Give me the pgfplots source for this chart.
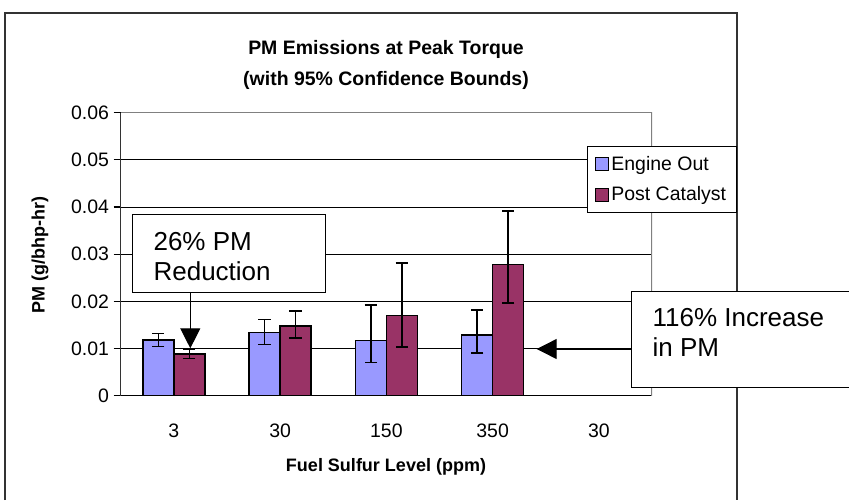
\documentclass[border=0pt]{standalone}
\usepackage{pgfplots}
\pgfplotsset{compat=1.18}
\usepackage{pgfplotstable}
\usepackage{fontspec}
\setmainfont{Liberation Sans}
\usetikzlibrary{arrows.meta}
\definecolor{eo}{HTML}{9999FF}
\definecolor{pc}{HTML}{993366}

\pgfplotsset{sqlegend/.style={legend image code/.code={\draw[##1,line width=0.9pt] (0pt,-4.9pt) rectangle (9.75pt,4.9pt);}}}

\pgfplotstableread{
x y ep em
0 0.0118 0.0014 0.0014
1 0.0134 0.0028 0.0025
2 0.0117 0.0075 0.0047
3 0.0129 0.0053 0.0038
}\engineout
\pgfplotstableread{
x y ep em
0 0.0088 0.0010 0.0009
1 0.0148 0.0032 0.0026
2 0.0170 0.0111 0.0067
3 0.0278 0.0114 0.0081
}\postcat

\begin{document}
\begin{tikzpicture}
\begin{scope}[x=0.75pt,y=-0.75pt]
\fill[white] (0,0) rectangle (849,500);
\draw[line width=1.1pt, black!80] (5,500) -- (5,13) -- (737,13) -- (737,500);
\node[font=\bfseries\fontsize{14.6}{18}\selectfont] at (386,49) {PM Emissions at Peak Torque};
\node[font=\bfseries\fontsize{14.6}{18}\selectfont] at (386,80) {(with 95\% Confidence Bounds)};
\node[font=\bfseries\fontsize{13.5}{16}\selectfont, rotate=90] at (40,255) {PM (g/bhp-hr)};
\node[font=\bfseries\fontsize{13.5}{16}\selectfont] at (386,467) {Fuel Sulfur Level (ppm)};
\end{scope}

\begin{axis}[
  at={(90.525pt,-296.775pt)}, anchor=south west,
  scale only axis, width=398.5pt, height=212.25pt,
  xmin=-0.5, xmax=4.5, ymin=0, ymax=0.06,
  scaled y ticks=false,
  axis x line*=bottom, axis y line*=left,
  x axis line style={-, black, line width=1.1pt},
  y axis line style={-, black!80, line width=1.1pt},
  ybar,
  xtick={0,1,2,3,4},
  xticklabels={3,30,150,350,30},
  xtick style={draw=none},
  minor xtick={-0.5,0.5,1.5,2.5,3.5,4.5},
  minor tick length=5.25pt,
  major tick length=5.25pt,
  tick align=outside,
  minor x tick style={black, line width=0.9pt},
  ytick={0,0.01,0.02,0.03,0.04,0.05,0.06},
  yticklabels={0,0.01,0.02,0.03,0.04,0.05,0.06},
  y tick style={black, line width=0.9pt},
  /pgf/number format/assume math mode=true,
  ticklabel style={font=\fontsize{14.6}{17}\selectfont},
  xticklabel style={yshift=-12pt},
  ymajorgrids,
  major grid style={black, line width=0.75pt},
  legend style={at={(0.877,0.882)}, anchor=north west, draw=black, line width=0.75pt,
    font=\fontsize{14.6}{17}\selectfont, cells={anchor=west}, fill=white,
    inner xsep=5.5pt, inner ysep=5pt, row sep=7pt},
]
\addplot[ybar, bar width=23.25pt, bar shift=-11.625pt, fill=eo, draw=black, line width=1.2pt,
  sqlegend,
  error bars/.cd, y dir=both, y explicit,
  error bar style={line width=1.1pt, black},
  error mark options={rotate=90, mark size=4.6pt, line width=1.1pt, black}]
  table[x=x, y=y, y error plus=ep, y error minus=em]{\engineout};
\addlegendentry{Engine Out}
\addplot[ybar, bar width=23.25pt, bar shift=11.625pt, fill=pc, draw=black, line width=1.2pt,
  sqlegend,
  error bars/.cd, y dir=both, y explicit,
  error bar style={line width=1.1pt, black},
  error mark options={rotate=90, mark size=4.6pt, line width=1.1pt, black}]
  table[x=x, y=y, y error plus=ep, y error minus=em]{\postcat};
\addlegendentry{Post Catalyst}
\draw[gray, line width=1.1pt] (rel axis cs:0,1) -- (rel axis cs:1,1) -- (rel axis cs:1,0);
\end{axis}

\begin{scope}[x=0.75pt,y=-0.75pt]
\draw[black, line width=1.1pt, fill=white] (132.3,214.3) rectangle (325.7,292.3);
\node[anchor=base west, align=left, inner sep=0pt, font=\fontsize{19.5}{22.5}\selectfont] at (153.3,280) {26\% PM\\Reduction};
\draw[black, line width=0.9pt, -{Triangle[width=15pt,length=15pt]}] (190.3,292.3) -- (190.3,348.3);
\fill[white] (631.7,291.7) rectangle (849,387.7);
\draw[black, line width=1.1pt] (849,291.7) -- (631.7,291.7) -- (631.7,387.7) -- (849,387.7);
\node[anchor=base west, align=left, inner sep=0pt, font=\fontsize{19.5}{22.5}\selectfont] at (652.3,356.7) {116\% Increase\\in PM};
\draw[black, line width=0.9pt, -{Triangle[width=15pt,length=15pt]}] (631.7,349) -- (536.7,349);
\end{scope}
\pgfresetboundingbox
\begin{scope}[x=0.75pt,y=-0.75pt]
\useasboundingbox (0,0) rectangle (849,500);
\end{scope}
\end{tikzpicture}
\end{document}
